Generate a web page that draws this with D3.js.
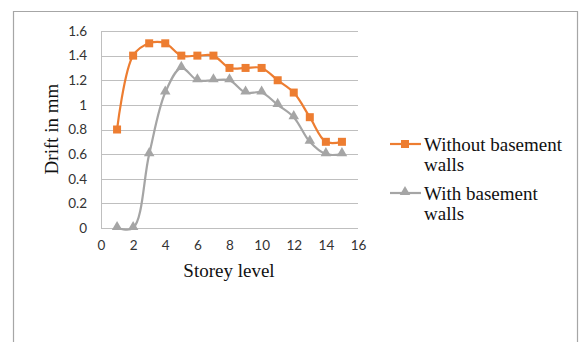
<!DOCTYPE html>
<html><head><meta charset="utf-8">
<script src="https://cdn.jsdelivr.net/npm/d3@7"></script>
<style>body{margin:0;background:#fff}svg{display:block}</style>
</head><body>
<script>
const storeys = [1,2,3,4,5,6,7,8,9,10,11,12,13,14,15];
const withoutWalls = [0.8,1.4,1.5,1.5,1.4,1.4,1.4,1.3,1.3,1.3,1.2,1.1,0.9,0.7,0.7];
const withWalls = [0,0,0.6,1.1,1.3,1.2,1.2,1.2,1.1,1.1,1.0,0.9,0.7,0.6,0.6];
const xTicks = [0,2,4,6,8,10,12,14,16];
const yTicks = [0,0.2,0.4,0.6,0.8,1,1.2,1.4,1.6];
const seriesNames = ["Without basement walls","With basement walls"];

const W=579,H=342;
const svg=d3.select("body").append("svg").attr("width",W).attr("height",H);
svg.append("path").attr("d",`M13.5,${H} V11.5 H577.5 V${H}`).attr("fill","none").attr("stroke","#A6A6A6").attr("stroke-width",1.2);

const x=d3.scaleLinear().domain([0,16]).range([101,358]);
const y=d3.scaleLinear().domain([0,1.6]).range([228,31]);
const tickFont="Lato, 'Open Sans', sans-serif";
const serif="'Liberation Serif', 'DejaVu Serif', serif";

// gridlines
svg.append("g").selectAll("line").data(yTicks).join("line")
  .attr("x1",x(0)).attr("x2",x(16)).attr("y1",d=>Math.round(y(d))+0.5).attr("y2",d=>Math.round(y(d))+0.5)
  .attr("stroke","#BFBFBF").attr("stroke-width",1);
svg.append("line").attr("x1",x(0)+0.5).attr("x2",x(0)+0.5).attr("y1",y(1.6)).attr("y2",y(0))
  .attr("stroke","#BFBFBF");

// tick labels
const yAxis=d3.axisLeft(y).tickValues(yTicks).tickSize(0).tickPadding(14).tickFormat(d=>d3.format("")(d));
const gy=svg.append("g").attr("transform",`translate(${x(0)},0)`).call(yAxis);
gy.select(".domain").remove();
gy.selectAll("text").attr("font-family",tickFont).attr("font-size",13.5).attr("fill","#333");
const xAxis=d3.axisBottom(x).tickValues(xTicks).tickSize(0).tickPadding(12);
const gx=svg.append("g").attr("transform",`translate(0,${y(0)})`).call(xAxis);
gx.select(".domain").remove();
gx.selectAll("text").attr("font-family",tickFont).attr("font-size",13.5).attr("fill","#333");

// axis titles
svg.append("text").attr("x",229).attr("y",277).attr("text-anchor","middle")
  .attr("font-family",serif).attr("font-size",19).attr("fill","#111").text("Storey level");
svg.append("text").attr("transform","translate(58,129) rotate(-90)").attr("text-anchor","middle")
  .attr("font-family",serif).attr("font-size",19).attr("fill","#111").text("Drift in mm");

const line=d3.line().x((d,i)=>x(storeys[i])).y(d=>y(d)).curve(d3.curveCatmullRom.alpha(0.5));
const orange="#ED7D31",grey="#A5A5A5";
svg.append("path").datum(withWalls).attr("d",line).attr("fill","none").attr("stroke",grey).attr("stroke-width",2.2);
svg.append("path").datum(withoutWalls).attr("d",line).attr("fill","none").attr("stroke",orange).attr("stroke-width",2.2);
const tri=d3.symbol().type(d3.symbolTriangle).size(48);
svg.append("g").selectAll("path").data(withWalls).join("path")
  .attr("transform",(d,i)=>`translate(${x(storeys[i])},${y(d)-1})`).attr("d",tri).attr("fill",grey);
svg.append("g").selectAll("rect").data(withoutWalls).join("rect")
  .attr("x",(d,i)=>x(storeys[i])-4).attr("y",d=>y(d)-4).attr("width",8).attr("height",8).attr("fill",orange);

// legend
const leg=[{c:orange,m:"sq",lines:["Without basement","walls"],y:144},{c:grey,m:"tri",lines:["With basement","walls"],y:193}];
leg.forEach(l=>{
  const g=svg.append("g");
  g.append("line").attr("x1",390).attr("x2",421).attr("y1",l.y).attr("y2",l.y).attr("stroke",l.c).attr("stroke-width",2.2);
  if(l.m==="sq") g.append("rect").attr("x",401).attr("y",l.y-4).attr("width",8).attr("height",8).attr("fill",l.c);
  else g.append("path").attr("transform",`translate(405,${l.y-1})`).attr("d",tri).attr("fill",l.c);
  l.lines.forEach((t,k)=>g.append("text").attr("x",424).attr("y",l.y+7+k*20)
    .attr("font-family",serif).attr("font-size",19).attr("fill","#111").text(t));
});
</script>
</body></html>
